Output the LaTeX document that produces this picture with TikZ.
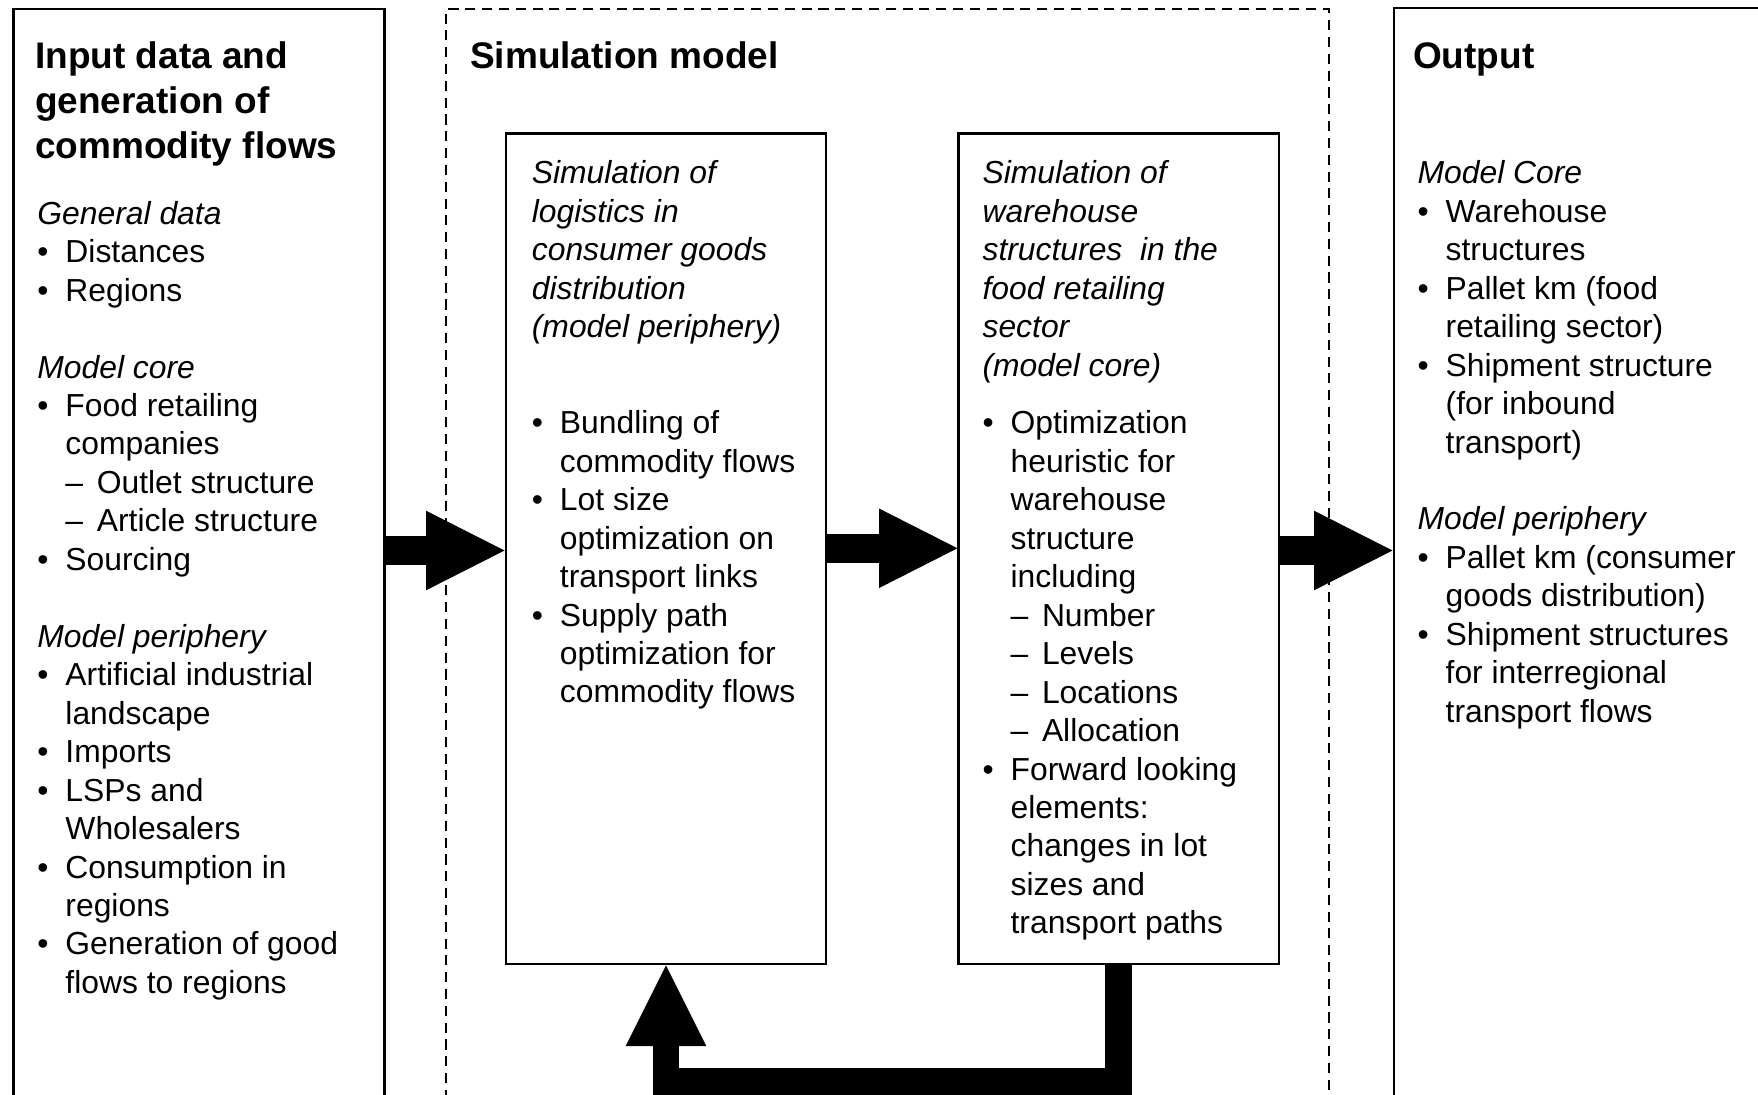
\documentclass[tikz,border=0pt]{standalone}
\usepackage{fontspec}
\setmainfont{Liberation Sans}
\usetikzlibrary{arrows.meta,fit}

% text helpers
\newcommand{\bodyfnt}{\fontsize{14.2bp}{17.15bp}\selectfont}
\newcommand{\ttlfnt}{\fontsize{16.5bp}{20bp}\selectfont\bfseries}
\newcommand{\bul}{\makebox[12.5bp][l]{\textbullet}}
\newcommand{\hang}{\hspace*{12.5bp}}
\newcommand{\dsh}{\hspace*{12.5bp}\makebox[14bp][l]{–}}
\newcommand{\dhang}{\hspace*{26.5bp}}

\begin{document}
\begin{tikzpicture}[x=0.5bp,y=-0.5bp,
  frame/.style={draw, line width=1bp, inner sep=0pt},
  dframe/.style={draw, line width=0.9bp, dash pattern=on 4.5bp off 3bp, inner sep=0pt},
  txt/.style={anchor=base west, inner sep=0pt},
  flow/.style={line width=13bp, -{Triangle[length=35bp, width=35.5bp, line width=0pt]}},
  loopback/.style={line width=12bp, line join=miter,
    -{Triangle[length=36bp, width=36bp, line width=0pt]}}
]
\useasboundingbox (0,0) rectangle (1568,976);
\clip (0,0) rectangle (1568,976);

% column frames (open towards the bottom / right)
\node[frame,  fit={(12,8) (343,1010)}]   (inp)  {};
\node[dframe, fit={(398,8) (1185,1010)}] (sim)  {};
\node[frame,  fit={(1243,7) (1600,1010)}] (out) {};

% inner simulation boxes
\node[frame, fit={(451,119) (737,860)}]  (per)  {};
\node[frame, fit={(855,119) (1141,860)}] (core) {};

% headings
\node[txt] (tin) at (31,61) {\parbox[t]{200bp}{\ttlfnt Input data and\\generation of\\commodity flows}};
\node[txt] (tsim) at (419,61) {\ttlfnt Simulation model};
\node[txt] (tout) at (1260,61) {\ttlfnt Output};

% input column
\node[txt] (lin) at (33,200) {\parbox[t]{200bp}{\bodyfnt
\textit{General data}\\
\bul Distances\\
\bul Regions\\[17.15bp]
\textit{Model core}\\
\bul Food retailing\\
\hang companies\\
\dsh Outlet structure\\
\dsh Article structure\\
\bul Sourcing\\[17.15bp]
\textit{Model periphery}\\
\bul Artificial industrial\\
\hang landscape\\
\bul Imports\\
\bul LSPs and\\
\hang Wholesalers\\
\bul Consumption in\\
\hang regions\\
\bul Generation of good\\
\hang flows to regions}};

% model periphery box
\node[txt] (lper) at (474,164) {\parbox[t]{200bp}{\bodyfnt
\textit{Simulation of}\\
\textit{logistics in}\\
\textit{consumer goods}\\
\textit{distribution}\\
\textit{(model periphery)}\\[25.7bp]
\bul Bundling of\\
\hang commodity flows\\
\bul Lot size\\
\hang optimization on\\
\hang transport links\\
\bul Supply path\\
\hang optimization for\\
\hang commodity flows}};

% model core box
\node[txt] (lcore) at (876,164) {\parbox[t]{200bp}{\bodyfnt
\textit{Simulation of}\\
\textit{warehouse}\\
\textit{structures\ \ in the}\\
\textit{food retailing}\\
\textit{sector}\\
\textit{(model core)}\\[8.6bp]
\bul Optimization\\
\hang heuristic for\\
\hang warehouse\\
\hang structure\\
\hang including\\
\dsh Number\\
\dsh Levels\\
\dsh Locations\\
\dsh Allocation\\
\bul Forward looking\\
\hang elements:\\
\hang changes in lot\\
\hang sizes and\\
\hang transport paths}};

% output column
\node[txt] (lout) at (1264,164) {\parbox[t]{200bp}{\bodyfnt
\textit{Model Core}\\
\bul Warehouse\\
\hang structures\\
\bul Pallet km (food\\
\hang retailing sector)\\
\bul Shipment structure\\
\hang (for inbound\\
\hang transport)\\[17.15bp]
\textit{Model periphery}\\
\bul Pallet km (consumer\\
\hang goods distribution)\\
\bul Shipment structures\\
\hang for interregional\\
\hang transport flows}};

% flow arrows
\coordinate (ya) at (0,491);
\coordinate (yb) at (0,489);
\coordinate (yc) at (0,491);
\draw[flow] (inp.east |- ya) -- (per.west |- ya);
\draw[flow] (per.east |- yb) -- (core.west |- yb);
\draw[flow] (core.east |- yc) -- (out.west |- yc);

% feedback loop from the core model back to the periphery model
\coordinate (fr) at (998,0);
\coordinate (fl) at (594,0);
\coordinate (fb) at (0,965);
\draw[loopback] (core.south -| fr) |- (fb -| fl) -- (per.south -| fl);
\end{tikzpicture}
\end{document}
